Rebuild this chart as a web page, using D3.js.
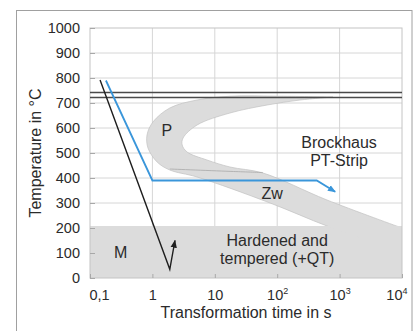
<!DOCTYPE html>
<html>
<head>
<meta charset="utf-8">
<script src="https://cdn.jsdelivr.net/npm/d3@7"></script>
<style>
body { margin: 0; background: #fff; }
text { font-family: "Liberation Sans", Arial, sans-serif; fill: #2b2b2b; }
</style>
</head>
<body>
<div id="chart"></div>
<script>
// values (time in s, temperature in °C)
const tempTicks = [0, 100, 200, 300, 400, 500, 600, 700, 800, 900, 1000];
const timeTicks = [0.1, 1, 10, 100, 1000, 10000];
const acTemps = [742, 722];
const mTop = 208;

// transformation start (outer edge of the C band), from the tip at Ac1 round the nose
const startCurve = [[784,724],[111,727],[17.5,727],[5.2,712],[1.9,680],[1.02,624],[0.82,572],
  [0.85,520],[1.19,464],[1.9,432],[5.2,404],[77,300],[628,208],[3000,150]];
// transformation finish (inner edge), from the right end back to the tip
const finishCurve = [[10000,200],[628,312],[59,420],[17.5,444],[7.5,472],[3.6,504],
  [3.0,532],[3.1,560],[5.2,612],[17.5,660],[69,692],[232,712],[784,724]];
const dividerCurve = [[1.9,436],[20,426],[59,422]];

const bluePath = [[0.18,790],[1.0,390],[430,390],[850,345]];
const blackPath = [[0.145,792],[1.9,35],[2.3,150]];

const labels = [
  {text: 'P', t: 1.71, T: 592},
  {text: 'Brockhaus', t: 980, T: 544},
  {text: 'PT-Strip', t: 980, T: 472},
  {text: 'Zw', t: 83, T: 340},
  {text: 'M', t: 0.31, T: 104},
  {text: 'Hardened and', t: 100, T: 152},
  {text: 'tempered (+QT)', t: 100, T: 80}
];

const width = 416, height = 331;
const svg = d3.select('#chart').append('svg').attr('width', width).attr('height', height);

const x = d3.scaleLog().domain([0.1, 10000]).range([90, 402]);
const y = d3.scaleLinear().domain([0, 1000]).range([278, 28]);

// outer frame
svg.append('rect').attr('x', 16.5).attr('y', 10.5).attr('width', 395.5).attr('height', 340)
  .attr('fill', 'none').attr('stroke', '#a0a0a0');

const defs = svg.append('defs');
defs.append('clipPath').attr('id', 'plotclip')
  .append('rect').attr('x', x(0.1)).attr('y', y(1000))
  .attr('width', x(10000) - x(0.1)).attr('height', y(0) - y(1000));
defs.append('clipPath').attr('id', 'upperclip')
  .append('rect').attr('x', x(0.1)).attr('y', y(1000))
  .attr('width', x(10000) - x(0.1)).attr('height', y(mTop) - y(1000));

function marker(id, color) {
  defs.append('marker').attr('id', id).attr('viewBox', '0 0 10 10')
    .attr('refX', 9).attr('refY', 5).attr('markerWidth', 8).attr('markerHeight', 8)
    .attr('markerUnits', 'userSpaceOnUse').attr('orient', 'auto')
    .append('path').attr('d', 'M0,1 L10,5 L0,9 Z').attr('fill', color);
}
marker('arrBlue', '#3a96da');
marker('arrBlack', '#1e1e1e');

// grid
svg.append('g').selectAll('line').data(tempTicks.slice(1, -1)).join('line')
  .attr('x1', x(0.1)).attr('x2', x(10000)).attr('y1', d => y(d)).attr('y2', d => y(d))
  .attr('stroke', '#d6d6d6');
svg.append('g').selectAll('line').data(timeTicks.slice(1, -1)).join('line')
  .attr('x1', d => x(d)).attr('x2', d => x(d)).attr('y1', y(0)).attr('y2', y(1000))
  .attr('stroke', '#d6d6d6');

// shaded regions
const shade = '#dcdcdc';
const areas = svg.append('g').attr('clip-path', 'url(#plotclip)');
areas.append('rect').attr('x', x(0.1)).attr('y', y(mTop))
  .attr('width', x(10000) - x(0.1)).attr('height', y(0) - y(mTop)).attr('fill', shade);

const line = d3.line().x(d => x(d[0])).y(d => y(d[1]));
const smooth = d3.line().x(d => x(d[0])).y(d => y(d[1])).curve(d3.curveCatmullRom.alpha(0.5));
const bandD = smooth(startCurve)
  + 'L' + x(10000) + ',' + y(startCurve[startCurve.length - 1][1])
  + smooth(finishCurve).replace(/^M/, 'L') + 'Z';
areas.append('path').attr('d', bandD).attr('fill', shade);

// faint band edges, only above the tempered region
const edges = svg.append('g').attr('clip-path', 'url(#upperclip)')
  .attr('fill', 'none').attr('stroke', '#c2c2c2').attr('stroke-width', 0.7);
edges.append('path').attr('d', smooth(startCurve));
edges.append('path').attr('d', smooth(finishCurve));
edges.append('path').attr('d', smooth(dividerCurve)).attr('stroke', '#a8a8a8').attr('stroke-width', 0.8);

// plot border
svg.append('rect').attr('x', x(0.1)).attr('y', y(1000))
  .attr('width', x(10000) - x(0.1)).attr('height', y(0) - y(1000))
  .attr('fill', 'none').attr('stroke', '#c4c4c4');

// axes
const yAxis = svg.append('g').attr('transform', `translate(${x(0.1)},0)`)
  .call(d3.axisLeft(y).tickValues(tempTicks).tickFormat(d3.format('d'))
    .tickSizeInner(-5).tickSizeOuter(0).tickPadding(10));
yAxis.select('.domain').remove();
yAxis.selectAll('line').attr('stroke', '#a8a8a8');
yAxis.selectAll('text').attr('font-size', 14.5).attr('fill', '#2b2b2b');
yAxis.attr('font-family', null);

const fmt = d => d === 0.1 ? '0,1' : (d < 100 ? String(d) : '10');
const xAxis = svg.append('g').attr('transform', `translate(0,${y(0)})`)
  .call(d3.axisBottom(x).tickValues(timeTicks).tickFormat(fmt)
    .tickSizeInner(-4).tickSizeOuter(0).tickPadding(12));
xAxis.attr('font-family', null);
xAxis.select('.domain').remove();
xAxis.selectAll('line').attr('stroke', '#a8a8a8');
xAxis.selectAll('text').attr('font-size', 14.5).attr('fill', '#2b2b2b')
  .each(function(d) {
    const t = d3.select(this);
    if (d >= 100) t.append('tspan').attr('font-size', 9).attr('dy', -6).text(Math.round(Math.log10(d)));
    if (d === 0.1) t.attr('text-anchor', 'start').attr('x', -1);
    if (d === 10000) t.attr('text-anchor', 'end').attr('x', 5);
  });

// Ac lines
svg.append('g').selectAll('line').data(acTemps).join('line')
  .attr('x1', x(0.1)).attr('x2', x(10000)).attr('y1', d => y(d)).attr('y2', d => y(d))
  .attr('stroke', '#4a4a4a').attr('stroke-width', 1.5);

// cooling curves
svg.append('path').attr('d', line(blackPath)).attr('fill', 'none')
  .attr('stroke', '#1e1e1e').attr('stroke-width', 1.4).attr('marker-end', 'url(#arrBlack)');
svg.append('path').attr('d', line(bluePath)).attr('fill', 'none')
  .attr('stroke', '#3a96da').attr('stroke-width', 1.8).attr('marker-end', 'url(#arrBlue)');

// region labels
svg.append('g').selectAll('text').data(labels).join('text')
  .attr('x', d => x(d.t)).attr('y', d => y(d.T)).attr('dy', '0.35em')
  .attr('text-anchor', 'middle').attr('font-size', 16).text(d => d.text);

// axis titles
svg.append('text').attr('transform', `translate(35,${(y(0) + y(1000)) / 2}) rotate(-90)`)
  .attr('text-anchor', 'middle').attr('dy', '0.35em').attr('font-size', 16).text('Temperature in °C');
svg.append('text').attr('x', (x(0.1) + x(10000)) / 2).attr('y', 312).attr('dy', '0.35em')
  .attr('text-anchor', 'middle').attr('font-size', 16).text('Transformation time in s');
</script>
</body>
</html>
